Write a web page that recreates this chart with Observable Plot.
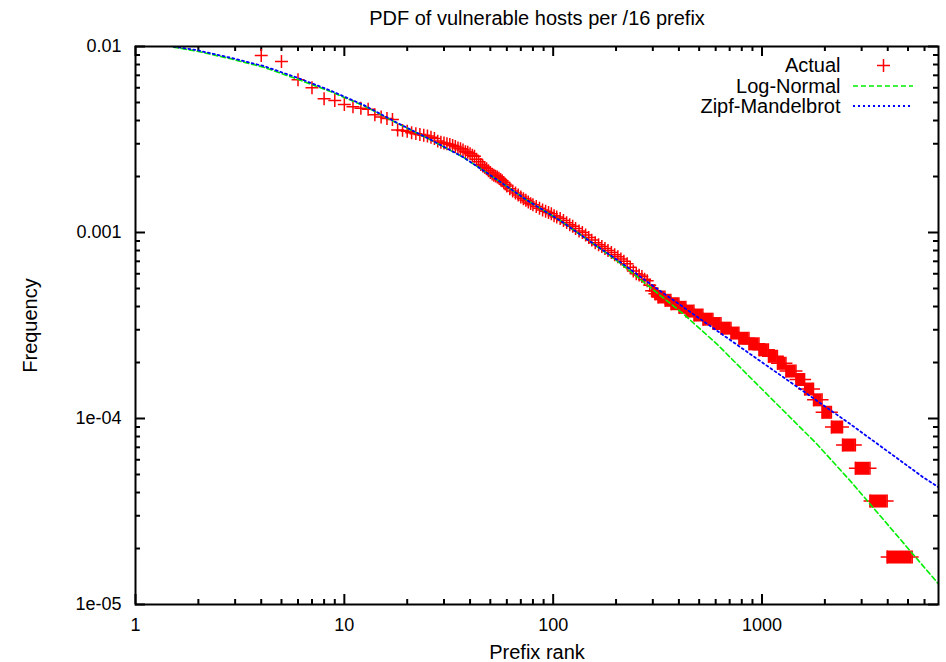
<!DOCTYPE html>
<html>
<head>
<meta charset="utf-8">
<script src="https://cdn.jsdelivr.net/npm/d3@7"></script>
<script src="https://cdn.jsdelivr.net/npm/@observablehq/plot@0.6"></script>
<style>
  html, body { margin: 0; padding: 0; background: #ffffff; }
  svg { display: block; }
</style>
</head>
<body>
<div id="chart"></div>
<script>
// ---------- data ----------
const title = "PDF of vulnerable hosts per /16 prefix";
const xLabel = "Prefix rank";
const yLabel = "Frequency";
const seriesNames = ["Actual", "Log-Normal", "Zipf-Mandelbrot"];

// individually listed points (rank, frequency)
const actualRank = [4, 5, 6, 7, 8, 9, 10, 11, 12, 13, 14, 15, 16, 17, 18, 19, 20, 21, 22, 23, 24, 25, 26, 27, 28, 29, 30,
  31, 32, 33, 34, 35, 36, 37, 38, 39, 40, 41, 42, 43, 44, 45, 46, 47, 48, 49,
  50, 51, 52, 53, 54, 55, 56, 57, 58, 59, 60, 62, 64, 66, 68, 70, 72, 74, 76, 78, 80, 83, 86, 89, 92, 95, 98,
  101, 104, 108, 112, 116, 120, 124, 128, 133, 138, 143, 148, 153, 159, 165, 171, 177, 183, 190, 197, 204, 211,
  218, 226, 234, 242, 250, 258, 266, 274, 282, 290];
const actualFreq = [0.00895, 0.0083, 0.00662, 0.0060, 0.00524, 0.00513, 0.00488, 0.00474, 0.00466, 0.0046, 0.0043,
  0.00418, 0.0041, 0.00405, 0.00356, 0.00354, 0.0035, 0.00344, 0.0034, 0.00336, 0.00333, 0.0033, 0.00325, 0.0032,
  0.0031, 0.00306, 0.00303, 0.0030, 0.00297, 0.00294, 0.0029, 0.00285, 0.00282, 0.00278, 0.00272, 0.0027, 0.00265,
  0.0026, 0.00257, 0.00248, 0.0024, 0.00232, 0.00228, 0.00224, 0.0022, 0.00215,
  0.00210, 0.00206, 0.00203, 0.00201, 0.00199, 0.00196, 0.00193, 0.00190, 0.00186, 0.00182, 0.00178, 0.00172,
  0.00167, 0.00163, 0.00159, 0.00155, 0.00152, 0.00149, 0.00146, 0.00143, 0.00141, 0.00138, 0.00135, 0.00132,
  0.00130, 0.00128, 0.00126, 0.00123, 0.00121, 0.00119, 0.00116, 0.00113, 0.00110, 0.00108, 0.00105, 0.00102,
  0.00100, 0.00097, 0.00094, 0.00091, 0.00088, 0.00086, 0.00084, 0.00082, 0.00080, 0.00078, 0.00076, 0.00074,
  0.00072, 0.00070, 0.00068, 0.00065, 0.00062, 0.00060, 0.00059, 0.00058, 0.00056, 0.00055, 0.00052];

// tied frequencies in the tail: every rank from first to last shares one frequency
const tieFreq = [4.86e-4, 4.68e-4, 4.50e-4, 4.32e-4, 4.14e-4, 3.96e-4, 3.78e-4, 3.60e-4, 3.42e-4, 3.24e-4, 3.06e-4,
  2.88e-4, 2.70e-4, 2.52e-4, 2.34e-4, 2.16e-4, 1.98e-4, 1.80e-4, 1.62e-4, 1.44e-4, 1.26e-4, 1.08e-4, 9.0e-5, 7.2e-5,
  5.4e-5, 3.6e-5, 1.8e-5];
const tieFirstRank = [296, 307, 318, 344, 367, 401, 433, 473, 522, 583, 637, 711, 776, 867, 968, 1074, 1186, 1303,
  1455, 1600, 1765, 1940, 2150, 2430, 2800, 3290, 3975];
const tieLastRank = [306, 317, 343, 366, 400, 432, 472, 521, 582, 636, 710, 775, 866, 967, 1073, 1185, 1302, 1454,
  1599, 1764, 1939, 2149, 2429, 2799, 3289, 3974, 5237];

// fitted curves
const logNormalRank = [1.52, 1.97, 2.85, 4.11, 5.94, 8.57, 12.4, 17.8, 25.7, 37.1, 53.6, 75, 108, 156, 209, 291, 420,
  607, 876, 1265, 1827, 2637, 3669, 5107, 7000];
const logNormalFreq = [0.00991, 0.00944, 0.00859, 0.00774, 0.00668, 0.00573, 0.0048, 0.00388, 0.00316, 0.00254,
  0.00193, 0.00149, 0.00116, 0.000869, 0.000685, 0.000508, 0.000365, 0.000252, 0.0001667, 0.0001104, 7.31e-5,
  4.64e-5, 3.01e-5, 1.95e-5, 1.29e-5];
const zipfRank = [1.52, 1.97, 2.85, 4.11, 5.94, 8.57, 12.4, 17.8, 25.7, 37.1, 53.6, 75, 108, 156, 209, 291, 607, 1265,
  2637, 5912, 7000];
const zipfFreq = [0.0100, 0.00955, 0.0087, 0.00785, 0.0068, 0.0058, 0.00484, 0.0039, 0.00317, 0.00254, 0.00193,
  0.00149, 0.00116, 0.00087, 0.000695, 0.00053, 0.000297, 0.0001667, 9.36e-5, 4.83e-5, 4.27e-5];

// axes
const xDomain = [1, 7000];
const yDomain = [1e-5, 0.01];
const xMajorTicks = [1, 10, 100, 1000];
const xTickLabels = ["1", "10", "100", "1000"];
const xMinorTicks = [2, 3, 4, 5, 6, 7, 8, 9, 20, 30, 40, 50, 60, 70, 80, 90, 200, 300, 400, 500, 600, 700, 800, 900,
  2000, 3000, 4000, 5000, 6000];
const yMajorTicks = [1e-5, 1e-4, 1e-3, 1e-2];
const yTickLabels = ["1e-05", "1e-04", "0.001", "0.01"];
const yMinorTicks = [2e-5, 3e-5, 4e-5, 5e-5, 6e-5, 7e-5, 8e-5, 9e-5, 2e-4, 3e-4, 4e-4, 5e-4, 6e-4, 7e-4, 8e-4, 9e-4,
  2e-3, 3e-3, 4e-3, 5e-3, 6e-3, 7e-3, 8e-3, 9e-3];

// ---------- drawing ----------
const RED = "#ff0000", GREEN = "#00ee00", BLUE = "#0000ff";
const W = 946, H = 662;
const mL = 135, mR = 8, mT = 46, mB = 58;
const frameH = H - mT - mB;
const frameW = W - mL - mR;
const majorLen = 10, minorLen = 5;
const FS = 20, TICKFS = 18;

const actualIdx = d3.range(actualRank.length);
const tieIdx = d3.range(tieFreq.length);
const lnIdx = d3.range(logNormalRank.length);
const zmIdx = d3.range(zipfRank.length);

const plusR = 4.25;   // gives arms of about 13 px
const plusW = 1.5;

const chart = Plot.plot({
  width: W, height: H,
  marginLeft: mL, marginRight: mR, marginTop: mT, marginBottom: mB,
  style: {fontFamily: "'Liberation Sans', Arial, Helvetica, sans-serif", fontSize: TICKFS + "px", background: "#ffffff", color: "#000000"},
  x: {type: "log", domain: xDomain, axis: null},
  y: {type: "log", domain: yDomain, axis: null},
  marks: [
    // inward ticks on all four sides
    Plot.ruleX(xMajorTicks, {x: d => d, insetTop: frameH - majorLen, stroke: "#000", strokeWidth: 2}),
    Plot.ruleX(xMajorTicks, {x: d => d, insetBottom: frameH - majorLen, stroke: "#000", strokeWidth: 2}),
    Plot.ruleX(xMinorTicks, {x: d => d, insetTop: frameH - minorLen, stroke: "#000", strokeWidth: 2}),
    Plot.ruleX(xMinorTicks, {x: d => d, insetBottom: frameH - minorLen, stroke: "#000", strokeWidth: 2}),
    Plot.ruleY(yMajorTicks, {y: d => d, insetRight: frameW - majorLen, stroke: "#000", strokeWidth: 2}),
    Plot.ruleY(yMajorTicks, {y: d => d, insetLeft: frameW - majorLen, stroke: "#000", strokeWidth: 2}),
    Plot.ruleY(yMinorTicks, {y: d => d, insetRight: frameW - minorLen, stroke: "#000", strokeWidth: 2}),
    Plot.ruleY(yMinorTicks, {y: d => d, insetLeft: frameW - minorLen, stroke: "#000", strokeWidth: 2}),
    Plot.axisX({ticks: xMajorTicks, tickFormat: d => xTickLabels[xMajorTicks.indexOf(d)], tickSize: 0, tickPadding: 14, label: null, anchor: "bottom", fontSize: TICKFS}),
    Plot.axisY({ticks: yMajorTicks, tickFormat: d => yTickLabels[yMajorTicks.indexOf(d)], tickSize: 0, tickPadding: 14, label: null, anchor: "left", fontSize: TICKFS}),
    // actual data
    Plot.ruleY(tieIdx, {y: i => tieFreq[i], x1: i => tieFirstRank[i], x2: i => tieLastRank[i], stroke: RED, strokeWidth: 13, strokeLinecap: "butt"}),
    Plot.dot(tieIdx, {x: i => tieFirstRank[i], y: i => tieFreq[i], symbol: "plus", r: plusR, stroke: RED, strokeWidth: plusW}),
    Plot.dot(tieIdx, {x: i => tieLastRank[i], y: i => tieFreq[i], symbol: "plus", r: plusR, stroke: RED, strokeWidth: plusW}),
    Plot.dot(actualIdx, {x: i => actualRank[i], y: i => actualFreq[i], symbol: "plus", r: plusR, stroke: RED, strokeWidth: plusW, clip: true}),
    // fits
    Plot.line(lnIdx, {x: i => logNormalRank[i], y: i => logNormalFreq[i], stroke: GREEN, strokeWidth: 1.6, strokeDasharray: "5,3", clip: true}),
    Plot.line(zmIdx, {x: i => zipfRank[i], y: i => zipfFreq[i], stroke: BLUE, strokeWidth: 1.8, strokeDasharray: "2,3", clip: true}),
    Plot.frame({stroke: "#000", strokeWidth: 2}),
    // titles
    Plot.text([title], {frameAnchor: "top", dy: -28, lineAnchor: "middle", textAnchor: "middle", text: d => d, fontSize: FS}),
    Plot.text([xLabel], {frameAnchor: "bottom", dy: 48, lineAnchor: "middle", textAnchor: "middle", text: d => d, fontSize: FS}),
    Plot.text([yLabel], {frameAnchor: "left", dx: -105, rotate: -90, lineAnchor: "middle", textAnchor: "middle", text: d => d, fontSize: FS}),
    // legend text and plus sample
    Plot.text([seriesNames[0]], {frameAnchor: "top-right", dx: -98, dy: 19, textAnchor: "end", lineAnchor: "middle", text: d => d, fontSize: FS}),
    Plot.text([seriesNames[1]], {frameAnchor: "top-right", dx: -98, dy: 40, textAnchor: "end", lineAnchor: "middle", text: d => d, fontSize: FS}),
    Plot.text([seriesNames[2]], {frameAnchor: "top-right", dx: -98, dy: 60, textAnchor: "end", lineAnchor: "middle", text: d => d, fontSize: FS}),
    Plot.dot([0], {frameAnchor: "top-right", dx: -55, dy: 19, symbol: "plus", r: plusR, stroke: RED, strokeWidth: plusW})
  ]
});

// legend line samples
const svg = d3.select(chart);
const lx1 = W - mR - 85, lx2 = W - mR - 25;
svg.append("line").attr("x1", lx1).attr("x2", lx2).attr("y1", mT + 40).attr("y2", mT + 40)
  .attr("stroke", GREEN).attr("stroke-width", 1.6).attr("stroke-dasharray", "5,3");
svg.append("line").attr("x1", lx1).attr("x2", lx2).attr("y1", mT + 60).attr("y2", mT + 60)
  .attr("stroke", BLUE).attr("stroke-width", 1.8).attr("stroke-dasharray", "2,3");

document.getElementById("chart").appendChild(chart);
</script>
</body>
</html>
